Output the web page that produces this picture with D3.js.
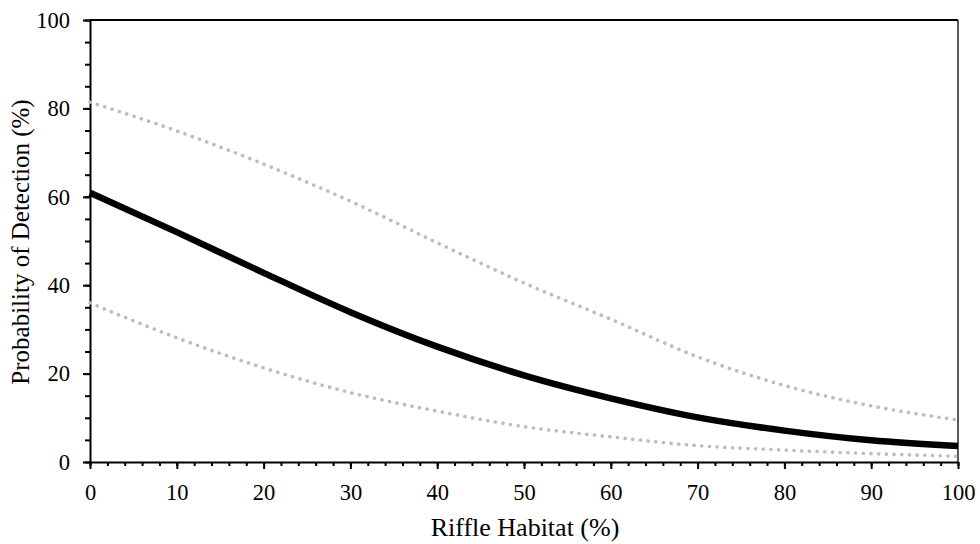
<!DOCTYPE html>
<html>
<head>
<meta charset="utf-8">
<script src="https://cdn.jsdelivr.net/npm/d3@7"></script>
<style>
  body { margin: 0; background: #fff; }
</style>
</head>
<body>
<div id="chart"></div>
<script>
// riffle habitat (%) sampled every 10
const riffle = [0, 10, 20, 30, 40, 50, 60, 70, 80, 90, 100];
const detection = [60.9, 52.0, 42.8, 33.9, 26.1, 19.6, 14.4, 10.1, 7.1, 4.9, 3.6];
const upperCI = [81.4, 74.9, 67.4, 59.0, 49.6, 40.5, 32.3, 23.8, 17.3, 12.7, 9.5];
const lowerCI = [36.0, 28.1, 21.3, 15.7, 11.5, 8.0, 5.7, 3.7, 2.7, 1.9, 1.3];
const xTicks = d3.range(0, 101, 10);
const yTicks = d3.range(0, 101, 20);

const FONT = "'Liberation Serif', 'Times New Roman', 'DejaVu Serif', serif";
const W = 980, H = 544;
const margin = { top: 20, right: 22, bottom: 82, left: 90 };
const width = W - margin.left - margin.right;
const height = H - margin.top - margin.bottom;

const svg = d3.select("#chart").append("svg")
  .attr("width", W)
  .attr("height", H)
  .attr("font-family", FONT);

const g = svg.append("g")
  .attr("transform", `translate(${margin.left},${margin.top})`);

const x = d3.scaleLinear().domain([0, 100]).range([0, width]);
const y = d3.scaleLinear().domain([0, 100]).range([height, 0]);

// frame top and right
g.append("line").attr("x1", 0).attr("x2", width).attr("y1", 0).attr("y2", 0)
  .attr("stroke", "#000").attr("stroke-width", 2);
g.append("line").attr("x1", width).attr("x2", width).attr("y1", 0).attr("y2", height)
  .attr("stroke", "#222").attr("stroke-width", 1.5);

// minor ticks
g.append("g")
  .call(d3.axisLeft(y).tickValues(d3.range(0, 101, 5)).tickSize(5).tickFormat(""))
  .call(a => a.select(".domain").remove())
  .selectAll("line").attr("stroke-width", 2);
g.append("g")
  .attr("transform", `translate(0,${height})`)
  .call(d3.axisBottom(x).tickValues(d3.range(0, 101, 2)).tickSize(4).tickFormat(""))
  .call(a => a.select(".domain").remove())
  .selectAll("line").attr("stroke-width", 2);

// major axes
const yAxis = g.append("g")
  .call(d3.axisLeft(y).tickValues(yTicks).tickSize(7).tickPadding(13).tickSizeOuter(0));
const xAxis = g.append("g")
  .attr("transform", `translate(0,${height})`)
  .call(d3.axisBottom(x).tickValues(xTicks).tickSize(7).tickPadding(12).tickSizeOuter(0));

[yAxis, xAxis].forEach(a => {
  a.attr("font-family", FONT).attr("font-size", 22.5);
  a.select(".domain").attr("stroke-width", 2);
  a.selectAll("line").attr("stroke-width", 2);
  a.selectAll("text").attr("fill", "#000");
});
xAxis.selectAll("text").attr("dy", "0.85em");

const line = d3.line()
  .x((d, i) => x(riffle[i]))
  .y(d => y(d))
  .curve(d3.curveMonotoneX);

[upperCI, lowerCI].forEach(s => {
  g.append("path")
    .datum(s)
    .attr("d", line)
    .attr("fill", "none")
    .attr("stroke", "#bdbdbd")
    .attr("stroke-width", 3.6)
    .attr("stroke-linecap", "round")
    .attr("stroke-dasharray", "0.1 7.6");
});

g.append("path")
  .datum(detection)
  .attr("d", line)
  .attr("fill", "none")
  .attr("stroke", "#000")
  .attr("stroke-width", 6.5);

// axis titles
svg.append("text")
  .attr("x", 525)
  .attr("y", 536)
  .attr("text-anchor", "middle")
  .attr("font-size", 26)
  .text("Riffle Habitat (%)");

svg.append("text")
  .attr("transform", `translate(29,242) rotate(-90)`)
  .attr("text-anchor", "middle")
  .attr("font-size", 25)
  .text("Probability of Detection (%)");
</script>
</body>
</html>
